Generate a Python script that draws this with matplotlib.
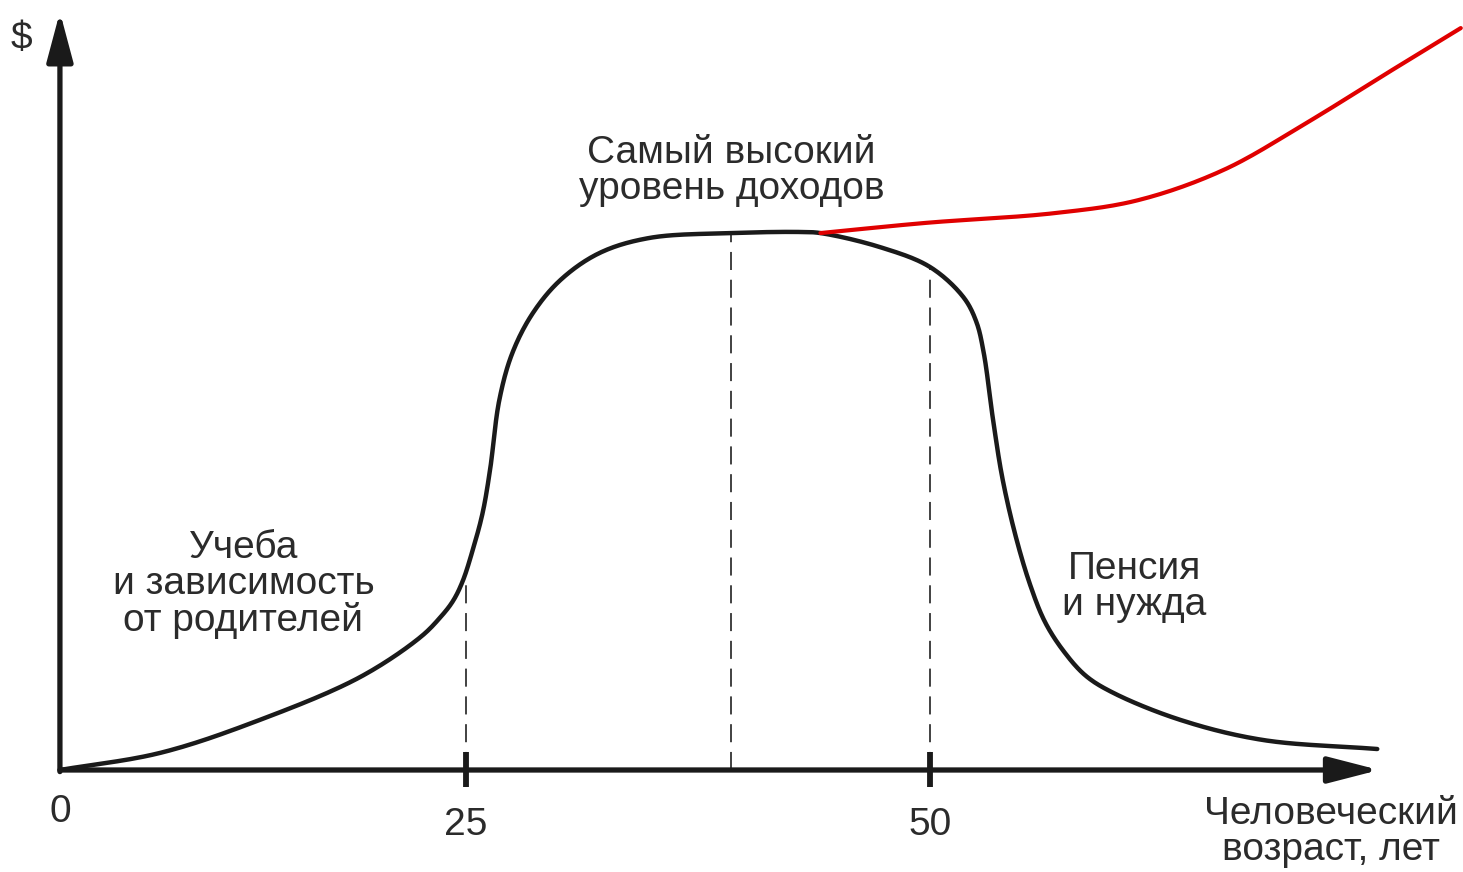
import numpy as np
import matplotlib
matplotlib.use("Agg")
import matplotlib.pyplot as plt

# Life-cycle income curve (schematic)
# age in years, income in % of peak
AGE_LIFE = [0, 6.2, 12.3, 18.5, 22.2, 23.4, 24.2, 24.8, 25.4, 25.9,
            26.3, 26.8, 27.5, 28.6, 30.1, 32.2, 34.9, 39.3, 43.0, 44.1,
            47.3, 50.0, 51.8, 52.5, 52.9, 53.4, 53.9, 54.6, 55.4, 56.2,
            57.2, 58.4, 59.9, 63.5, 67.9, 74.1]
INCOME_LIFE = [0, 3.2, 9.3, 17.3, 24.7, 28.3, 31.4, 35.1, 41.3, 47.8,
               55.8, 68.8, 77.5, 84.9, 91.1, 96.1, 98.9, 99.8, 100, 99.8,
               97.2, 93.5, 87.9, 83.3, 77.5, 65.1, 54.3, 43.7, 34.4, 27.5,
               22.1, 17.5, 14.3, 9.3, 5.6, 3.9]

# alternative path (red): income keeps growing
AGE_RED = [44.1, 49.8, 56.7, 61.2, 65.8, 70.3, 74.9, 78.6]
INCOME_RED = [99.8, 101.7, 103.5, 105.9, 111.5, 120.3, 130.1, 137.9]

DASH_AGES = [25, 39.3, 50]
TICK_AGES = [25, 50]
TICK_LABELS = ["25", "50"]

LABEL_TOP = "Самый высокий\nуровень доходов"
LABEL_LEFT = "Учеба\nи зависимость\nот родителей"
LABEL_RIGHT = "Пенсия\nи нужда"
LABEL_X = "Человеческий\nвозраст, лет"
LABEL_Y = "$"

plt.rcParams["font.family"] = ["Liberation Sans", "DejaVu Sans"]
plt.rcParams["lines.scale_dashes"] = False

Y_PX = 5.38  # px per income unit, used only to keep the smoothing isotropic

# schematic age axis: 0-25 is drawn a bit tighter than 25+
def fwd(a):
    a = np.asarray(a, dtype=float)
    return np.where(a <= 25, a * 16.24, 406 + (a - 25) * 18.56)

def inv(p):
    p = np.asarray(p, dtype=float)
    return np.where(p <= 406, p / 16.24, 25 + (p - 406) / 18.56)


def smooth(xs, ys, n=24):
    """Centripetal Catmull-Rom through the read points (drawing only)."""
    P = np.column_stack([fwd(xs), np.asarray(ys, float) * Y_PX])
    P = np.vstack([2 * P[0] - P[1], P, 2 * P[-1] - P[-2]])
    out = []
    for i in range(1, len(P) - 2):
        p0, p1, p2, p3 = P[i - 1:i + 3]
        t0 = 0.0
        t1 = t0 + np.linalg.norm(p1 - p0) ** 0.5
        t2 = t1 + np.linalg.norm(p2 - p1) ** 0.5
        t3 = t2 + np.linalg.norm(p3 - p2) ** 0.5
        t = np.linspace(t1, t2, n)[:, None]
        a1 = (t1 - t) / (t1 - t0) * p0 + (t - t0) / (t1 - t0) * p1
        a2 = (t2 - t) / (t2 - t1) * p1 + (t - t1) / (t2 - t1) * p2
        a3 = (t3 - t) / (t3 - t2) * p2 + (t - t2) / (t3 - t2) * p3
        b1 = (t2 - t) / (t2 - t0) * a1 + (t - t0) / (t2 - t0) * a2
        b2 = (t3 - t) / (t3 - t1) * a2 + (t - t1) / (t3 - t1) * a3
        c = (t2 - t) / (t2 - t1) * b1 + (t - t1) / (t2 - t1) * b2
        out.append(c if i == 1 else c[1:])
    C = np.vstack(out)
    return inv(C[:, 0]), C[:, 1] / Y_PX


fig = plt.figure(figsize=(14.63, 8.72), dpi=100)
ax = fig.add_axes([0, 0, 1, 1])
ax.set_xscale("function", functions=(fwd, inv))
ax.set_xlim(-3.69, 78.72)
ax.set_ylim(-18.96, 143.12)
ax.axis("off")

life_x, life_y = smooth(AGE_LIFE, INCOME_LIFE)
red_x, red_y = smooth(AGE_RED, INCOME_RED)

for a in DASH_AGES:
    top = np.interp(a, life_x, life_y)
    ax.plot([a, a], [0, top], color="#333333", lw=1.3,
            linestyle=(0, (13, 7)), zorder=1)

# axes with arrows
ax.annotate("", xy=(74.2, 0), xytext=(0, 0),
            arrowprops=dict(arrowstyle="-|>,head_length=1.55,head_width=0.4",
                            mutation_scale=20, lw=3.8, color="#1a1a1a",
                            shrinkA=0, shrinkB=0), zorder=3)
ax.annotate("", xy=(0, 140.9), xytext=(0, -0.3),
            arrowprops=dict(arrowstyle="-|>,head_length=1.5,head_width=0.4",
                            mutation_scale=20, lw=3.8, color="#1a1a1a",
                            shrinkA=0, shrinkB=0), zorder=3)

for a in TICK_AGES:
    ax.plot([a, a], [-3.2, 3.4], color="#1a1a1a", lw=4.2,
            solid_capstyle="butt", zorder=3)

ax.plot(life_x, life_y, color="#1a1a1a", lw=3.2,
        solid_joinstyle="round", solid_capstyle="round", zorder=4)
ax.plot(red_x, red_y, color="#e00000", lw=3.0,
        solid_joinstyle="round", solid_capstyle="round", zorder=5)

fs = 28
tc = "#2b2b2b"
ax.text(0, -7.8, "0", fontsize=fs, color=tc, ha="center", va="center")
for a, lab in zip(TICK_AGES, TICK_LABELS):
    ax.text(a, -10.2, lab, fontsize=fs, color=tc, ha="center", va="center")
ax.text(-2.35, 135.8, LABEL_Y, fontsize=fs, color=tc, ha="center", va="center")
ax.text(39.3, 111.3, LABEL_TOP, fontsize=fs, color=tc, ha="center",
        va="center", linespacing=1.0)
ax.text(11.3, 34.4, LABEL_LEFT, fontsize=fs, color=tc, ha="center",
        va="center", linespacing=1.0)
ax.text(61.0, 34.0, LABEL_RIGHT, fontsize=fs, color=tc, ha="center",
        va="center", linespacing=1.0)
ax.text(71.6, -11.5, LABEL_X, fontsize=fs, color=tc, ha="center",
        va="center", linespacing=1.0)

fig.savefig("out.png", dpi=100, facecolor="white")
